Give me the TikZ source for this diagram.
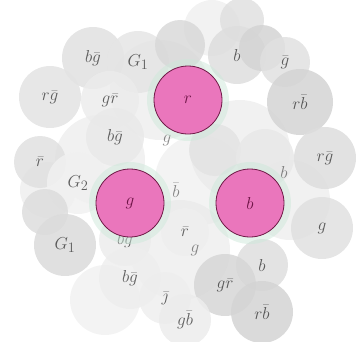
\documentclass[tikz,border=0pt]{standalone}
\begin{document}
\begin{tikzpicture}[x=1pt,y=-1pt,
  ball/.style={circle, inner sep=0pt, fill=gray!#1, fill opacity=0.85, text opacity=0.6, text=black, font=\fontsize{19}{22}\selectfont},
  faint/.style={circle, inner sep=0pt, fill=gray!#1, fill opacity=0.5},
  stray/.style={text=black, text opacity=0.45, font=\fontsize{17}{20}\selectfont},
  quark/.style={circle, inner sep=0pt, minimum size=68pt, fill={rgb,255:red,234;green,118;blue,188}, draw={rgb,255:red,110;green,25;blue,70}, line width=0.8pt, text={rgb,255:red,110;green,20;blue,70}, font=\fontsize{19}{22}\selectfont},
  halo/.style={circle, inner sep=0pt, minimum size=82pt, fill={rgb,255:red,205;green,232;blue,218}, fill opacity=0.5}
]
\useasboundingbox (0,0) rectangle (358,341);
% faint background
\node[faint=22, minimum size=100pt] (f1) at (160,90) {};
\node[faint=22, minimum size=100pt] (f2) at (240,150) {};
\node[faint=22, minimum size=100pt] (f3) at (180,250) {};
\node[faint=22, minimum size=90pt] (f4) at (100,160) {};
\node[faint=22, minimum size=80pt] (f5) at (290,200) {};
\node[faint=18, minimum size=90pt] (f6) at (200,180) {};
\node[faint=18, minimum size=70pt] (f7) at (105,300) {};
\node[faint=20, minimum size=56pt] (f8) at (212,28) {};
\node[faint=22, minimum size=56pt] (f9) at (48,190) {};
% gray balls
\node[ball=24, minimum size=44pt] (c1) at (242,20) {};
\node[ball=24, minimum size=62pt] (c2) at (93,58) {$b\bar g$};
\node[ball=20, minimum size=62pt] (c3) at (138,62) {$G_1$};
\node[ball=30, minimum size=50pt] (c4) at (180,45) {};
\node[ball=26, minimum size=58pt] (c5) at (237,55) {$b$};
\node[ball=34, minimum size=46pt] (c6) at (262,48) {};
\node[ball=24, minimum size=50pt] (c7) at (285,62) {$\bar g$};
\node[ball=34, minimum size=66pt] (c8) at (300,102) {$r\bar b$};
\node[ball=22, minimum size=62pt] (c9) at (50,97) {$r\bar g$};
\node[ball=15, minimum size=58pt] (c10) at (110,100) {$g\bar r$};
\node[ball=17, minimum size=58pt] (c11) at (115,137) {$b\bar g$};
\node[ball=24, minimum size=52pt] (c12) at (40,162) {$\bar r$};
\node[ball=11, minimum size=62pt] (c13) at (78,183) {$G_2$};
\node[ball=22, minimum size=52pt] (c14) at (215,150) {};
\node[ball=18, minimum size=58pt] (c15) at (265,158) {};
\node[ball=27, minimum size=62pt] (c16) at (325,158) {$r\bar g$};
\node[ball=27, minimum size=46pt] (c17) at (45,212) {};
\node[ball=24, minimum size=62pt] (c18) at (322,228) {$g$};
\node[ball=28, minimum size=62pt] (c19) at (65,245) {$G_1$};
\node[ball=15, minimum size=52pt] (c20) at (125,240) {$b\bar g$};
\node[ball=13, minimum size=48pt] (c21) at (185,232) {$\bar r$};
\node[ball=13, minimum size=62pt] (c22) at (130,278) {$b\bar g$};
\node[ball=13, minimum size=52pt] (c23) at (165,298) {$\bar\jmath$};
\node[ball=26, minimum size=52pt] (c24) at (262,265) {$b$};
\node[ball=32, minimum size=62pt] (c25) at (225,285) {$g\bar r$};
\node[ball=34, minimum size=62pt] (c26) at (262,312) {$r\bar b$};
\node[ball=15, minimum size=52pt] (c27) at (185,320) {$g\bar b$};
% small stray labels
\node[stray] (l1) at (167,140) {$g$};
\node[stray] (l2) at (176,190) {$\bar b$};
\node[stray] (l3) at (195,250) {$g$};
\node[stray] (l4) at (284,172) {$b$};
% halos
\node[halo] (h1) at (188,100) {};
\node[halo] (h2) at (130,203) {};
\node[halo] (h3) at (250,203) {};
% quarks
\node[quark] (r) at (188,100) {$r$};
\node[quark] (g) at (130,203) {$g$};
\node[quark] (b) at (250,203) {$b$};
\end{tikzpicture}
\end{document}
